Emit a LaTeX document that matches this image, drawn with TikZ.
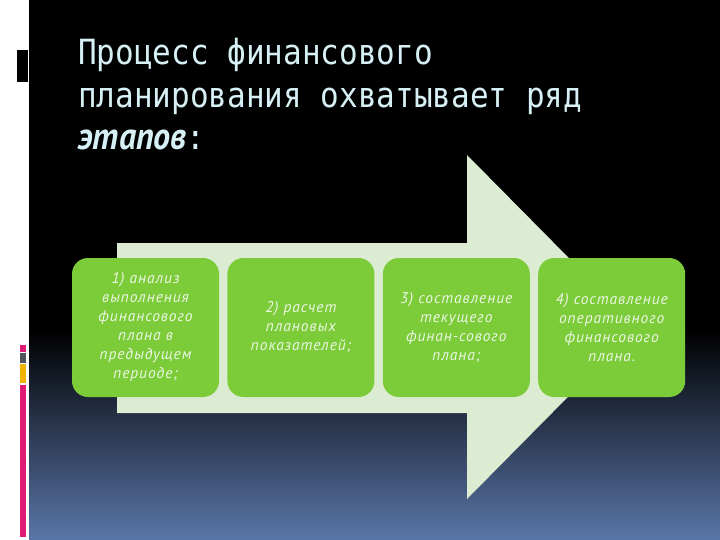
\documentclass[tikz,border=0pt]{standalone}
\usepackage{fontspec}
\setmainfont{PT Sans}
\newfontfamily\titlefont{DejaVu Sans Mono}
\newfontfamily\stepfont[LetterSpace=6]{PT Sans}
\usetikzlibrary{positioning}

\definecolor{titlecyan}{RGB}{214,240,246}
\definecolor{stepgreen}{RGB}{124,204,58}
\definecolor{arrowpale}{RGB}{220,236,210}
\definecolor{steptext}{RGB}{236,246,228}
\definecolor{bgblue}{RGB}{90,118,168}
\definecolor{barpink}{RGB}{222,28,118}
\definecolor{bargray}{RGB}{80,86,94}
\definecolor{baryellow}{RGB}{240,180,0}

\newcommand\tallline[1]{\scalebox{1}[1.12]{#1}}

\tikzset{
  titleline/.style={anchor=base west, inner sep=0pt, text=titlecyan,
    font=\titlefont\fontsize{31}{42}\selectfont},
  stepbox/.style={rectangle, rounded corners=16pt, fill=stepgreen,
    minimum width=147pt, minimum height=139pt, inner sep=2pt,
    align=center, text=steptext, font=\stepfont\itshape\fontsize{15.5}{19}\selectfont}
}

\begin{document}
\begin{tikzpicture}[x=1pt,y=-1pt]
  \useasboundingbox (0,0) rectangle (720,540);
  % background
  \fill[white] (0,0) rectangle (29,540);
  \fill[black] (29,0) rectangle (720,331);
  \shade[top color=black, middle color={rgb,255:red,30;green,38;blue,58},
    bottom color=bgblue] (29,330) rectangle (720,540);
  \fill[black] (17,50) rectangle (28,82);
  \fill[barpink] (20,345) rectangle (26,352);
  \fill[bargray] (20,353) rectangle (26,363);
  \fill[baryellow] (20,364) rectangle (26,383);
  \fill[barpink] (20,385) rectangle (26,537);

  % title
  \node[titleline] (title1) at (78,65) {\tallline{Процесс финансового}};
  \node[titleline] (title2) at (78,108) {\tallline{планирования охватывает ряд}};
  \node[titleline] (title3) at (78,150)
    {\tallline{{\fontspec{PT Sans}\bfseries\itshape\fontsize{34}{42}\selectfont этапов}:}};

  % big arrow
  \fill[arrowpale] (117,243) -- (467,243) -- (467,155) -- (637,327)
    -- (467,499) -- (467,413) -- (117,413) -- cycle;

  % steps
  \node[stepbox] (step1) at (145.5,327.5)
    {1) анализ\\выполнения\\финансового\\плана в\\предыдущем\\периоде;};
  \node[stepbox, right=8pt of step1] (step2)
    {2) расчет\\плановых\\показателей;};
  \node[stepbox, right=8pt of step2] (step3)
    {3) составление\\текущего\\финан-сового\\плана;};
  \node[stepbox, right=8pt of step3] (step4)
    {4) составление\\оперативного\\финансового\\плана.};

\end{tikzpicture}
\end{document}
